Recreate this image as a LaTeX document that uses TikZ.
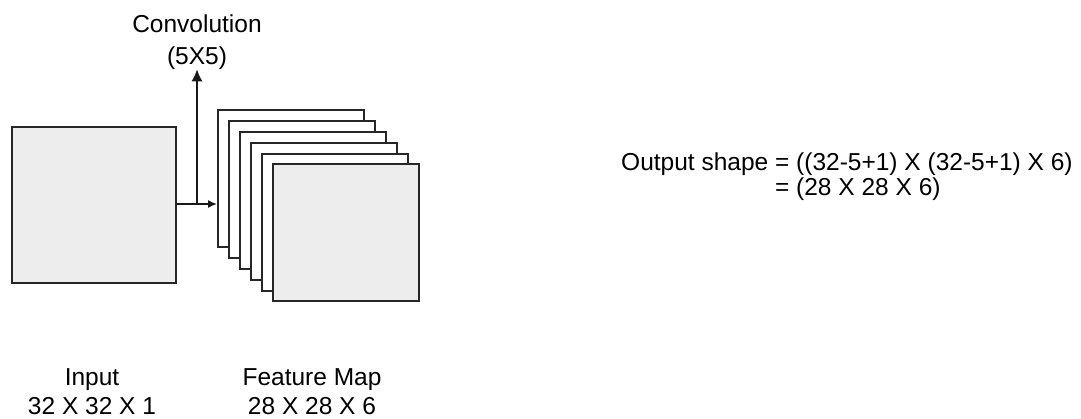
\documentclass[tikz,border=0pt]{standalone}
\usepackage{fontspec}
\setmainfont{Liberation Sans}
\usetikzlibrary{arrows.meta}
\begin{document}
\begin{tikzpicture}[x=1pt,y=-1pt,
  lbl/.style={inner sep=0pt, text=black, font=\fontsize{24.5}{29}\selectfont},
  plane/.style={draw=black!85, line width=1.5pt, fill=white, rectangle, inner sep=0pt,
                minimum width=146pt, minimum height=137pt, anchor=north west},
  inbox/.style={draw=black!85, line width=1.5pt, fill=black!7, rectangle, inner sep=0pt,
                minimum width=164pt, minimum height=156pt, anchor=north west},
  conn/.style={draw=black!90, line width=1.5pt}]
\useasboundingbox (0,0) rectangle (1081,418);
% input
\node[inbox] (input) at (11,126) {};
% feature maps
\node[plane] (fm0) at (217,109) {};
\node[plane] (fm1) at (228,120) {};
\node[plane] (fm2) at (239,131) {};
\node[plane] (fm3) at (250,142) {};
\node[plane] (fm4) at (261,153) {};
\node[plane, fill=black!7] (fm5) at (272,163) {};
% labels
\node[lbl, anchor=base] (conv1) at (197,32) {Convolution};
\node[lbl, anchor=base] (conv2) at (197,64) {(5X5)};
\node[lbl, anchor=base] (inl1) at (92,385) {Input};
\node[lbl, anchor=base] (inl2) at (92,414) {32 X 32 X 1};
\node[lbl, anchor=base] (fml1) at (312,385) {Feature Map};
\node[lbl, anchor=base] (fml2) at (312,414) {28 X 28 X 6};
\node[lbl, anchor=base west] (out1) at (621,170) {Output shape = ((32-5+1) X (32-5+1) X 6)};
\node[lbl, anchor=base west] (out2) at (621,195) {\phantom{Output shape }= (28 X 28 X 6)};
% connectors
\coordinate (split) at (197,204);
\draw[conn, -{Latex[length=9pt,width=8pt]}] (input.east |- split) -- (fm0.west |- split);
\draw[conn, -{Latex[length=12pt,width=11pt]}] (split) -- (conv2.south);
\end{tikzpicture}
\end{document}
